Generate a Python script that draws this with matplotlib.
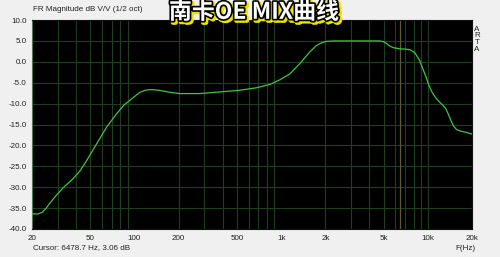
import matplotlib

matplotlib.use("Agg")
import matplotlib.pyplot as plt
import matplotlib.patheffects as pe
from matplotlib.ticker import FixedLocator, NullFormatter

# frequency response
freq_hz = [20, 22, 23.5, 25, 26.5, 29.5, 32.7, 38, 42.5, 47.2, 55.2, 64.6,
           75.6, 85, 93, 100, 109, 118, 127, 138, 149, 175, 204, 279, 382,
           522, 680, 838, 980, 1146, 1342, 1570, 1740, 1900, 2038, 2300, 2792,
           4700, 5000, 5220, 5500, 5800, 6480, 7000, 7540, 8140, 8780, 9200,
           9720, 10200, 10740, 11300, 11990, 12600, 13300, 13900, 14430, 15000,
           15680, 16800, 18380, 20000]
mag_db = [-36.4, -36.4, -36.0, -35.0, -33.8, -31.8, -30.1, -28.0, -26.1, -23.6,
          -19.6, -15.6, -12.4, -10.3, -9.2, -8.3, -7.3, -6.8, -6.65, -6.7,
          -6.85, -7.3, -7.6, -7.6, -7.2, -6.8, -6.2, -5.4, -4.3, -2.9, -0.4,
          2.4, 3.9, 4.6, 4.9, 5.0, 5.0, 5.0, 4.8, 4.4, 3.8, 3.4, 3.1, 3.05,
          2.9, 2.2, 0.4, -1.5, -3.6, -5.8, -7.4, -8.6, -9.6, -10.3, -11.3,
          -12.8, -14.2, -15.4, -16.2, -16.6, -16.9, -17.3]

x_ticks = [20, 50, 100, 200, 500, 1000, 2000, 5000, 10000, 20000]
x_tick_labels = ["20", "50", "100", "200", "500", "1k", "2k", "5k", "10k", "20k"]
y_ticks = [10, 5, 0, -5, -10, -15, -20, -25, -30, -35, -40]
cursor_hz = 6478.7

BG = "#f0f0f0"
GRID = "#1f3f1f"
CURVE = "#3cc83c"
TEXT = "#222222"
FS = 5.8

plt.rcParams["font.family"] = ["Liberation Sans", "DejaVu Sans"]

minor_grid = [m * d for d in (10, 100, 1000) for m in range(2, 10)] + [10000, 20000]

fig = plt.figure(figsize=(5.0, 2.57), dpi=100, facecolor=BG)
ax = fig.add_axes([0.064, 0.109, 0.88, 0.813])
ax.set_facecolor("black")

ax.set_xscale("log")
ax.set_xlim(20, 20000)
ax.set_ylim(-40, 10)

for f in minor_grid:
    ax.axvline(f, color=GRID, lw=0.8, zorder=1)
for v in y_ticks:
    ax.axhline(v, color=GRID, lw=0.8, zorder=1)
ax.axvline(cursor_hz, color="#5a5a30", lw=0.9, zorder=1)

ax.plot(freq_hz, mag_db, color=CURVE, lw=0.9, zorder=3)

ax.xaxis.set_major_locator(FixedLocator(x_ticks))
ax.xaxis.set_minor_locator(FixedLocator([]))
ax.xaxis.set_minor_formatter(NullFormatter())
ax.set_xticklabels(x_tick_labels)
ax.set_yticks(y_ticks)
ax.set_yticklabels([f"{v:.1f}" for v in y_ticks])
ax.tick_params(length=0, labelsize=FS, colors=TEXT, pad=4)
for s in ax.spines.values():
    s.set_color("#101010")
ax.spines["left"].set_color("#4c7a4c")

fig.text(0.066, 0.975, "FR Magnitude dB V/V (1/2 oct)", fontsize=FS, color=TEXT,
         ha="left", va="top")
fig.text(0.066, 0.025, "Cursor: 6478.7 Hz, 3.06 dB", fontsize=FS, color=TEXT,
         ha="left", va="bottom")
fig.text(0.93, 0.02, "F(Hz)", fontsize=FS, color=TEXT, ha="center", va="bottom")
fig.text(0.954, 0.90, "A\nR\nT\nA", fontsize=FS, color=TEXT, ha="center", va="top",
         linespacing=0.95)

fig.text(0.508, 0.952, "南卡OE MIX曲线", fontsize=16.5, fontweight="bold", color="white",
         ha="center", va="center", family=["Noto Sans CJK SC", "DejaVu Sans"],
         path_effects=[pe.withStroke(linewidth=3.2, foreground="#f0e000", offset=(1.3, -1.3)),
                       pe.withStroke(linewidth=2.4, foreground="black")])

fig.savefig("out.png", dpi=100, facecolor=BG)
plt.close(fig)
